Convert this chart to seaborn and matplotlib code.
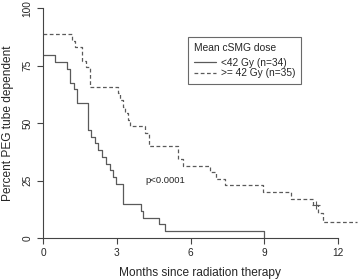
import numpy as np
import pandas as pd
import matplotlib
matplotlib.use('Agg')
import matplotlib.pyplot as plt
import seaborn as sns
from matplotlib.lines import Line2D

# Kaplan-Meier step values (months, percent)
low_t = [0, 0.49, 0.96, 1.08, 1.25, 1.4, 1.84, 1.95, 2.1, 2.25, 2.4, 2.55, 2.72, 2.85, 2.98,
         3.27, 3.98, 4.08, 4.73, 4.96, 9.0]
low_s = [79.4, 76.5, 73.5, 67.6, 64.7, 58.8, 47.1, 44.1, 41.2, 38.2, 35.3, 32.4, 29.4, 26.5, 23.5,
         14.7, 11.8, 8.8, 5.9, 2.9, 0.0]

high_t = [0, 1.2, 1.3, 1.6, 1.75, 1.9, 3.06, 3.15, 3.25, 3.35, 3.45, 3.54, 4.15, 4.3,
          5.5, 5.7, 6.79, 7.05, 7.4, 8.96, 10.1, 10.98, 11.2, 11.4, 12.75]
high_s = [88.6, 85.7, 82.9, 77.1, 74.3, 65.7, 62.9, 60.0, 57.1, 54.3, 51.4, 48.6, 45.7, 40.0,
          34.3, 31.4, 28.6, 25.7, 22.9, 20.0, 17.1, 14.3, 10.7, 7.1, 7.1]

censor_t = [11.1]
censor_s = [14.3]

groups = ['<42 Gy (n=34)', '>= 42 Gy (n=35)']
x_ticks = [0, 3, 6, 9, 12]
y_ticks = [0, 25, 50, 75, 100]

sns.set_style('ticks')
plt.rcParams['font.family'] = ['Liberation Sans', 'DejaVu Sans']

low = pd.DataFrame({'t': low_t, 's': low_s})
high = pd.DataFrame({'t': high_t, 's': high_s})

col = '#5a5a5a'
fig = plt.figure(figsize=(3.58, 2.79), dpi=100)
ax = fig.add_axes([0.120, 0.147, 0.880, 0.824])

sns.lineplot(data=low, x='t', y='s', ax=ax, color=col, linewidth=0.9,
             drawstyle='steps-post', estimator=None, sort=False)
sns.lineplot(data=high, x='t', y='s', ax=ax, color=col, linewidth=0.9,
             drawstyle='steps-post', estimator=None, sort=False, linestyle=(0, (3, 2)))
ax.plot(censor_t, censor_s, marker='+', color=col, markersize=6, linestyle='none',
        markeredgewidth=0.8)

ax.set_xlim(0, 12.81)
ax.set_ylim(0, 100)
ax.set_xticks(x_ticks)
ax.set_yticks(y_ticks)
for s in ['top', 'right']:
    ax.spines[s].set_visible(False)
ax.spines['bottom'].set_bounds(0, 12)
ax.spines['left'].set_bounds(0, 100)
for s in ['bottom', 'left']:
    ax.spines[s].set_color('#444444')
    ax.spines[s].set_linewidth(0.8)
ax.tick_params(axis='both', length=4, width=0.8, color='#444444', labelsize=7.3)
ax.tick_params(axis='x', pad=3.5)
ax.tick_params(axis='y', labelrotation=90, pad=3.5)
for lbl in ax.get_yticklabels():
    lbl.set_va('center')

ax.set_xlabel('Months since radiation therapy', fontsize=8.6, labelpad=6)
ax.set_ylabel('Percent PEG tube dependent', fontsize=8.6, labelpad=6)

ax.text(4.15, 24.8, 'p<0.0001', fontsize=6.8, ha='left', va='center')

handles = [Line2D([], [], color=col, linewidth=0.9),
           Line2D([], [], color=col, linewidth=0.9, linestyle=(0, (3, 2)))]
leg = ax.legend(handles, groups, title='Mean cSMG dose', loc='upper left',
                bbox_to_anchor=(188.3 / 358, 1 - 36.7 / 279), bbox_transform=fig.transFigure,
                fontsize=7.3, title_fontsize=7.4, frameon=True, fancybox=False,
                handlelength=2.1, handletextpad=0.5, labelspacing=0.05, borderpad=0.6,
                alignment='left', borderaxespad=0)
leg._legend_box.sep = 3.5
leg.get_frame().set_edgecolor('#444444')
leg.get_frame().set_linewidth(0.8)

fig.savefig('out.png', dpi=100)
